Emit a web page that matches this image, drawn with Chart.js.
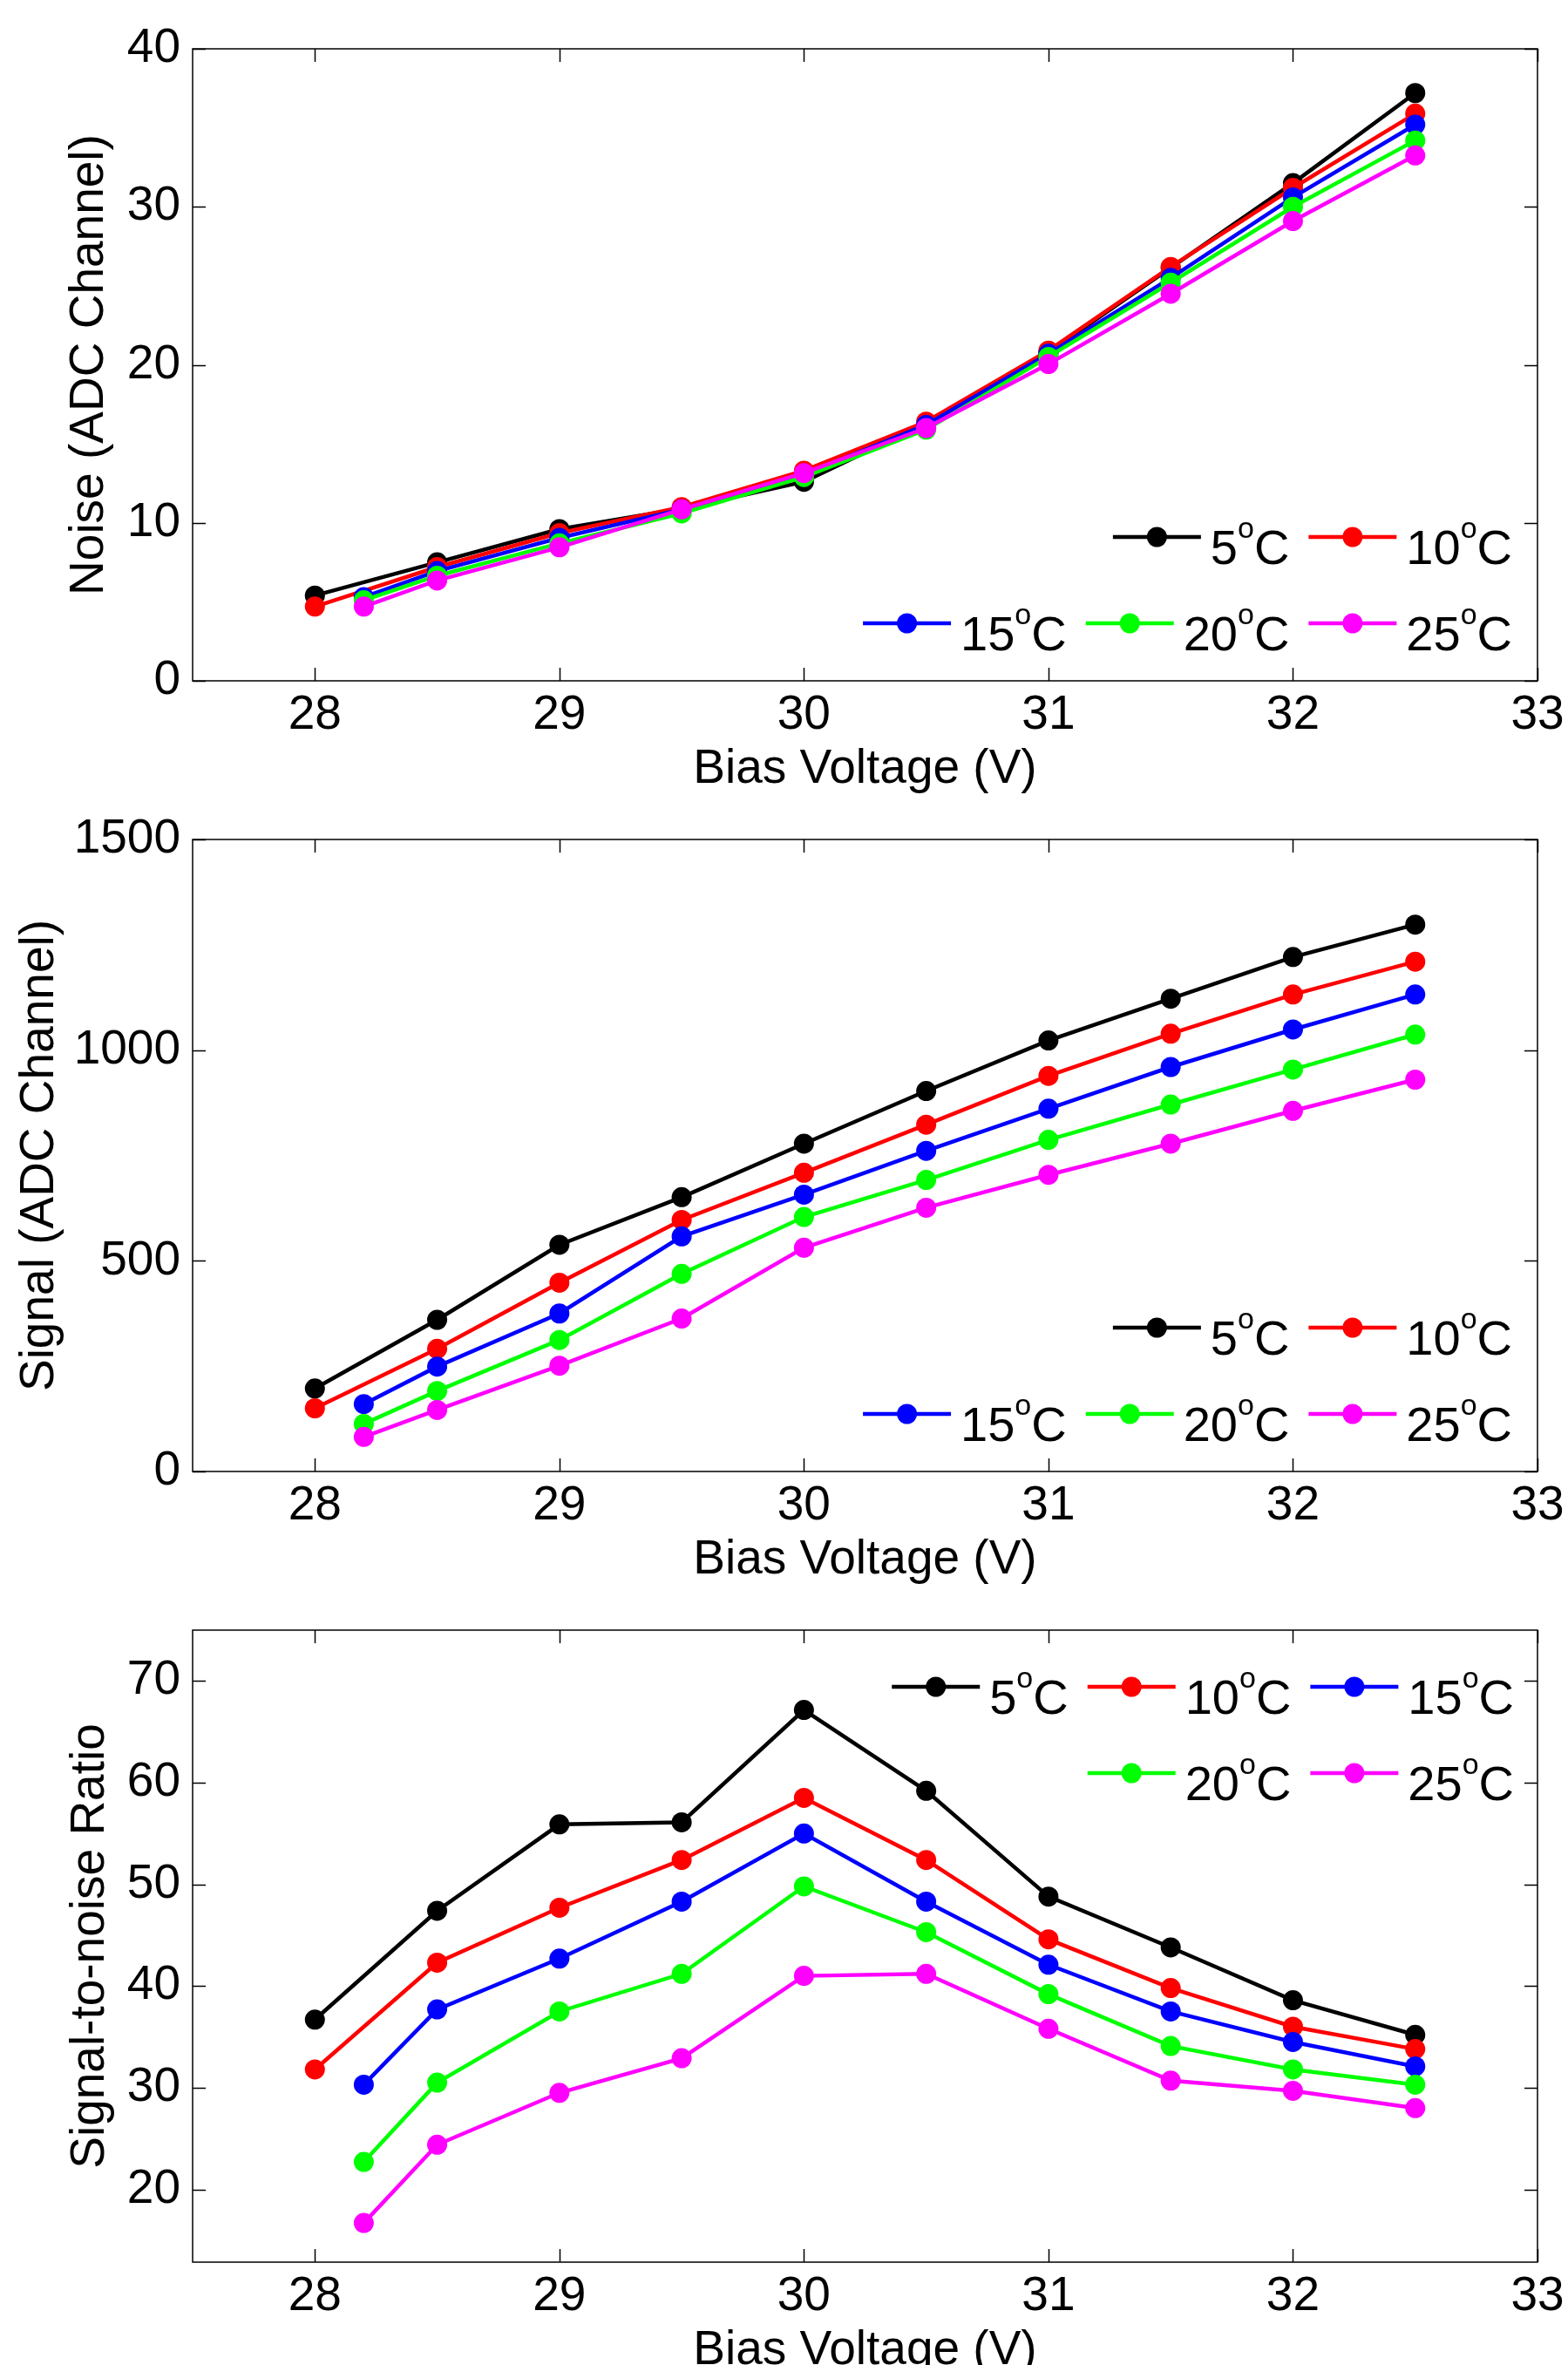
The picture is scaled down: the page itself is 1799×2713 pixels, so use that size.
<!DOCTYPE html>
<html>
<head>
<meta charset="utf-8">
<script src="https://cdn.jsdelivr.net/npm/chart.js@4.4.1/dist/chart.umd.min.js"></script>
<style>
  html, body { margin: 0; padding: 0; background: #fff; }
  #page { position: relative; width: 1799px; height: 2713px; overflow: hidden; background: #fff; }
  .panel { position: absolute; left: 0; width: 1799px; height: 910px; }
  .panel canvas { display: block; }
</style>
</head>
<body>
<div id="page">
  <div class="panel" style="top:0px"><canvas id="c1" width="1799" height="910"></canvas></div>
  <div class="panel" style="top:907px"><canvas id="c2" width="1799" height="910"></canvas></div>
  <div class="panel" style="top:1814px"><canvas id="c3" width="1799" height="910"></canvas></div>
</div>
<script>
// ---------------- data ----------------
const biasLow  = [28, 28.5, 29, 29.5, 30, 30.5, 31, 31.5, 32, 32.5];   // 5 and 10 degC runs
const biasHigh = [28.2, 28.5, 29, 29.5, 30, 30.5, 31, 31.5, 32, 32.5]; // 15, 20, 25 degC runs
const temps = ['5', '10', '15', '20', '25'];
const xTicks = [28, 29, 30, 31, 32, 33];

const noise5  = [5.4, 7.5, 9.6, 10.9, 12.6, 16.3, 20.8, 26.15, 31.5, 37.2];
const noise10 = [4.7, 7.2, 9.35, 11.0, 13.3, 16.4, 20.9, 26.2, 31.2, 35.9];
const noise15 = [5.3, 6.95, 9.05, 10.85, 13.05, 16.2, 20.7, 25.5, 30.6, 35.2];
const noise20 = [5.1, 6.65, 8.7, 10.6, 12.9, 15.9, 20.5, 25.2, 30.0, 34.2];
const noise25 = [4.7, 6.35, 8.45, 10.85, 13.15, 16.0, 20.05, 24.5, 29.1, 33.25];
const noiseTicks = [0, 10, 20, 30, 40];

const signal5  = [197, 360, 538, 651, 778, 903, 1023, 1122, 1221, 1298];
const signal10 = [150, 291, 448, 597, 709, 823, 939, 1039, 1132, 1210];
const signal15 = [160, 249, 375, 558, 657, 761, 861, 960, 1049, 1132];
const signal20 = [113, 191, 312, 469, 604, 692, 787, 871, 954, 1037];
const signal25 = [82, 146, 251, 363, 531, 626, 704, 778, 856, 930];
const signalTicks = [0, 500, 1000, 1500];

const snr5  = [36.7, 47.4, 55.9, 56.1, 67.15, 59.2, 48.8, 43.8, 38.6, 35.2];
const snr10 = [31.8, 42.3, 47.7, 52.4, 58.5, 52.4, 44.6, 39.8, 36.0, 33.8];
const snr15 = [30.3, 37.7, 42.7, 48.3, 55.0, 48.3, 42.1, 37.5, 34.5, 32.1];
const snr20 = [22.7, 30.5, 37.5, 41.2, 49.8, 45.3, 39.2, 34.1, 31.8, 30.3];
const snr25 = [16.7, 24.4, 29.5, 32.9, 41.0, 41.2, 35.8, 30.7, 29.7, 28.0];
const snrTicks = [20, 30, 40, 50, 60, 70];

// ---------------- styling ----------------
const FAMILY = "'Liberation Sans', Arial, Helvetica, sans-serif";
const FS = 55;
const LFS = 56;
const colors = ['#000000', '#ff0000', '#0000ff', '#00ff00', '#ff00ff'];

function pts(xs, ys) { return xs.map((x, i) => ({ x: x, y: ys[i] })); }

function makeDatasets(series) {
  const xsets = [biasLow, biasLow, biasHigh, biasHigh, biasHigh];
  return series.map((ys, i) => ({
    label: temps[i] + '°C',
    tempNum: temps[i],
    data: pts(xsets[i], ys),
    borderColor: colors[i],
    backgroundColor: colors[i],
    pointBackgroundColor: colors[i],
    pointBorderColor: colors[i],
    pointBorderWidth: 0,
    pointRadius: 11.5,
    borderWidth: 4.5,
    tension: 0,
    fill: false,
    order: 5 - i
  }));
}

// box + inward tick marks (MATLAB style)
const frameTicks = {
  id: 'frameTicks',
  afterDatasetsDraw(chart) {
    const { ctx, chartArea: a, scales } = chart;
    const L = 15;
    ctx.save();
    ctx.strokeStyle = '#000';
    ctx.lineWidth = 1.5;
    ctx.beginPath();
    scales.x.ticks.forEach(t => {
      const px = Math.round(scales.x.getPixelForValue(t.value)) + 0.5;
      ctx.moveTo(px, a.bottom); ctx.lineTo(px, a.bottom - L);
      ctx.moveTo(px, a.top); ctx.lineTo(px, a.top + L);
    });
    scales.y.ticks.forEach(t => {
      const py = Math.round(scales.y.getPixelForValue(t.value)) + 0.5;
      ctx.moveTo(a.left, py); ctx.lineTo(a.left + L, py);
      ctx.moveTo(a.right, py); ctx.lineTo(a.right - L, py);
    });
    ctx.stroke();
    ctx.strokeRect(a.left, a.top, a.right - a.left, a.bottom - a.top);
    ctx.restore();
  }
};

// legend with superscript "o" as in the original
const tempLegend = {
  id: 'tempLegend',
  afterDraw(chart, args, opts) {
    const { ctx, chartArea: a } = chart;
    const supFS = 34;
    const mainFont = LFS + 'px ' + FAMILY;
    const supFont = supFS + 'px ' + FAMILY;
    ctx.save();
    opts.rows.forEach((row, ri) => {
      const yLine = opts.anchor === 'bottom' ? a.bottom - opts.offsets[ri] : a.top + opts.offsets[ri];
      let xRight = a.right - opts.rightPad;
      for (let k = row.length - 1; k >= 0; k--) {
        const ds = chart.data.datasets[row[k]];
        ctx.font = mainFont;
        const wNum = ctx.measureText(ds.tempNum).width;
        const wC = ctx.measureText('C').width;
        ctx.font = supFont;
        const wO = ctx.measureText('o').width;
        const w = wNum + wO + wC;
        const tx = xRight - w;
        ctx.fillStyle = '#000';
        ctx.textAlign = 'left';
        ctx.textBaseline = 'alphabetic';
        ctx.font = mainFont;
        ctx.fillText(ds.tempNum, tx, yLine + 31);
        ctx.font = supFont;
        ctx.fillText('o', tx + wNum, yLine + 1);
        ctx.font = mainFont;
        ctx.fillText('C', tx + wNum + wO, yLine + 31);
        const lr = tx - opts.textGap;
        const ll = lr - opts.lineLen;
        ctx.strokeStyle = ds.borderColor;
        ctx.lineWidth = 4.5;
        ctx.beginPath();
        ctx.moveTo(ll, yLine); ctx.lineTo(lr, yLine);
        ctx.stroke();
        ctx.fillStyle = ds.borderColor;
        ctx.beginPath();
        ctx.arc((ll + lr) / 2, yLine, 11.5, 0, Math.PI * 2);
        ctx.fill();
        xRight = ll - opts.entryGap;
      }
    });
    ctx.restore();
  }
};

function makeChart(id, series, yMin, yMax, yTicks, yTitle, yTitlePad, legendOpts) {
  return new Chart(document.getElementById(id), {
    type: 'line',
    data: { datasets: makeDatasets(series) },
    options: {
      responsive: false,
      animation: false,
      events: [],
      layout: { padding: { top: 56, right: 35, left: 0, bottom: 0 } },
      plugins: {
        legend: { display: false },
        tooltip: { enabled: false },
        tempLegend: legendOpts
      },
      scales: {
        x: {
          type: 'linear',
          min: 27.5, max: 33,
          afterBuildTicks(s) { s.ticks = xTicks.map(v => ({ value: v })); },
          afterFit(s) { s.height = 129; s.paddingLeft = 0; s.paddingRight = 0; },
          ticks: { font: { family: FAMILY, size: FS, lineHeight: 1 }, color: '#000', padding: 12, maxRotation: 0, autoSkip: false,
                   callback: v => String(v) },
          grid: { display: false, drawTicks: false },
          border: { display: false },
          title: { display: true, text: 'Bias Voltage (V)', color: '#000',
                   font: { family: FAMILY, size: FS, lineHeight: 1 }, padding: { top: 0, bottom: 0 } }
        },
        y: {
          type: 'linear',
          min: yMin, max: yMax,
          afterBuildTicks(s) { s.ticks = yTicks.map(v => ({ value: v })); },
          afterFit(s) { s.width = 221; s.paddingTop = 0; s.paddingBottom = 0; },
          ticks: { font: { family: FAMILY, size: FS, lineHeight: 1 }, color: '#000', padding: 14, autoSkip: false,
                   callback: v => String(v) },
          grid: { display: false, drawTicks: false },
          border: { display: false },
          title: { display: true, text: yTitle, color: '#000',
                   font: { family: FAMILY, size: FS, lineHeight: 1 }, padding: { top: yTitlePad, bottom: 0 } }
        }
      }
    },
    plugins: [frameTicks, tempLegend]
  });
}

const legendBottom = { anchor: 'bottom', rows: [[0, 1], [2, 3, 4]], offsets: [165, 66], rightPad: 29, lineLen: 101, textGap: 11, entryGap: 22 };
const legendTop = { anchor: 'top', rows: [[0, 1, 2], [3, 4]], offsets: [65, 164], rightPad: 27, lineLen: 101, textGap: 11, entryGap: 22 };

makeChart('c1', [noise5, noise10, noise15, noise20, noise25], 0, 40, noiseTicks, 'Noise (ADC Channel)', 75, legendBottom);
makeChart('c2', [signal5, signal10, signal15, signal20, signal25], 0, 1500, signalTicks, 'Signal (ADC Channel)', 18, legendBottom);
makeChart('c3', [snr5, snr10, snr15, snr20, snr25], 12.85, 75, snrTicks, 'Signal-to-noise Ratio', 76, legendTop);
</script>
</body>
</html>
